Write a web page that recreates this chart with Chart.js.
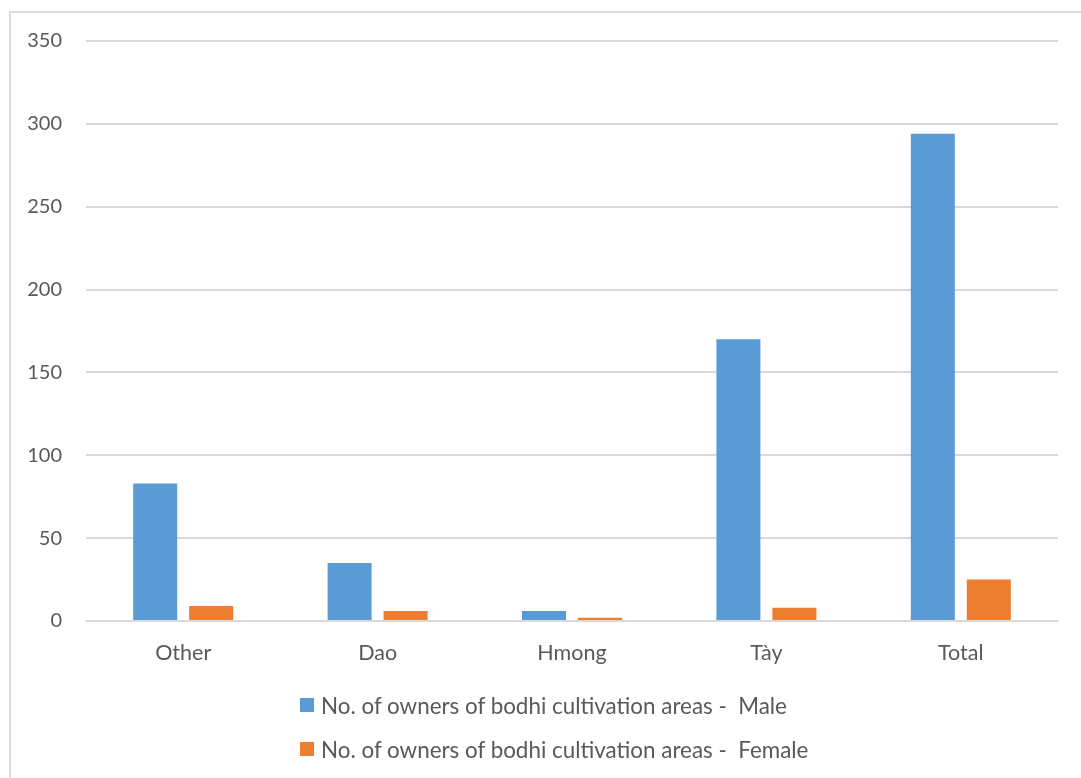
<!DOCTYPE html>
<html>
<head>
<meta charset="utf-8">
<title>Owners of bodhi cultivation areas by ethnic group</title>
<script src="https://cdn.jsdelivr.net/npm/chart.js@4/dist/chart.umd.min.js"></script>
<style>
  html, body { margin: 0; padding: 0; background: #ffffff; overflow: hidden; }
  body { width: 1081px; height: 778px; position: relative; font-family: Lato, "Open Sans", sans-serif; }
  #frame { position: absolute; left: 9px; top: 11px; width: 1200px; height: 900px;
           border: 2px solid #dcdcdc; box-sizing: border-box; }
  #wrap { position: absolute; left: 0; top: 0; width: 1081px; height: 778px; }
  #legend { position: absolute; left: 300px; top: 694px; }
  .item { display: flex; align-items: center; height: 22px; margin-bottom: 22px;
          font-size: 22.4px; color: #595959; white-space: pre; }
  .swatch { width: 14px; height: 14px; margin-right: 7px; flex: none; }
</style>
</head>
<body>
<div id="frame"></div>
<div id="wrap"><canvas id="chart" width="1081" height="778"></canvas></div>
<div id="legend"></div>
<script>
// Ethnic groups along the x axis
const categories = ['Other', 'Dao', 'Hmong', 'Tày', 'Total'];
// Number of owners of bodhi cultivation areas, by sex
const maleOwners = [83, 35, 6, 170, 294];
const femaleOwners = [9, 6, 2, 8, 25];
// Value axis range
const yMin = 0;
const yMax = 350;
const yStep = 50;

const seriesLabels = [
  'No. of owners of bodhi cultivation areas -  Male',
  'No. of owners of bodhi cultivation areas -  Female'
];
const seriesColors = ['#5b9bd5', '#ed7d31'];

const textColor = '#595959';
const gridColor = '#d9d9d9';
const family = 'Lato, "Open Sans", sans-serif';

const chart = new Chart(document.getElementById('chart'), {
  type: 'bar',
  data: {
    labels: categories,
    datasets: [
      { label: seriesLabels[0], data: maleOwners, backgroundColor: seriesColors[0] },
      { label: seriesLabels[1], data: femaleOwners, backgroundColor: seriesColors[1] }
    ]
  },
  options: {
    responsive: false,
    animation: false,
    layout: { padding: { left: 10, right: 23, top: 41, bottom: 97 } },
    datasets: {
      bar: { categoryPercentage: 0.576, barPercentage: 0.786 }
    },
    plugins: {
      legend: { display: false },
      tooltip: { enabled: false }
    },
    scales: {
      x: {
        grid: { display: false },
        border: { display: true, color: gridColor, width: 2 },
        ticks: { color: textColor, font: { family, size: 21.5 }, padding: 11 },
        afterFit(scale) { scale.height = 60; }
      },
      y: {
        min: yMin,
        max: yMax,
        ticks: { stepSize: yStep, color: textColor, font: { family, size: 20 }, padding: 24 },
        grid: { color: gridColor, lineWidth: 2, drawTicks: false },
        border: { display: false },
        afterFit(scale) { scale.width = 76; }
      }
    }
  }
});

// Legend: one series per row, swatch followed by its label
const legendEl = document.getElementById('legend');
chart.data.datasets.forEach(ds => {
  const row = document.createElement('div');
  row.className = 'item';
  const sw = document.createElement('span');
  sw.className = 'swatch';
  sw.style.background = ds.backgroundColor;
  const txt = document.createElement('span');
  txt.textContent = ds.label;
  row.appendChild(sw);
  row.appendChild(txt);
  legendEl.appendChild(row);
});
</script>
</body>
</html>
